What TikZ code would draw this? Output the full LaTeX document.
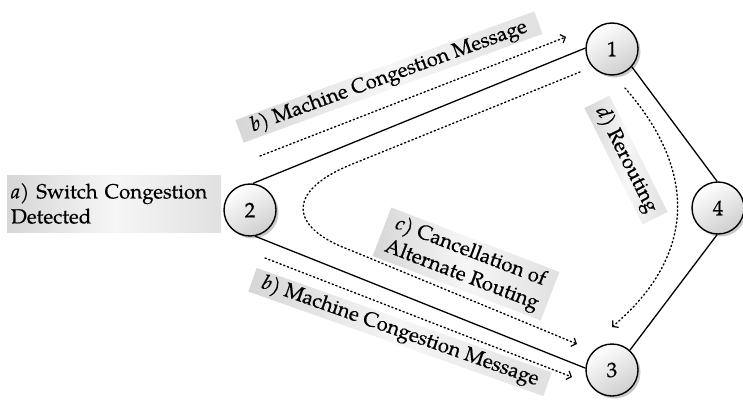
\documentclass[tikz,border=0pt]{standalone}
\usepackage{fontspec}
\setmainfont{TeX Gyre Pagella}[FakeBold=0.5, ItalicFeatures={FakeBold=0.5}]
\usetikzlibrary{arrows.meta,shadows}
\tikzset{
  netnode/.style={circle, draw=black, line width=1.4pt, minimum size=52pt, inner sep=0pt,
    top color=white, bottom color=gray!38, shading angle=30,
    drop shadow={shadow xshift=2.5pt, shadow yshift=-2.5pt, fill=gray!70, opacity=0.6},
    font=\fontsize{21}{21}\selectfont},
  link/.style={line width=1.3pt, draw=black},
  msg/.style={line width=1.4pt, dash pattern=on 1.3pt off 2.7pt, line cap=round,
    -{Straight Barb[length=4pt,width=9pt,line width=1.2pt]}},
  labelbox/.style={inner sep=0pt, left color=gray!32, right color=gray!24, middle color=gray!7,
    font=\fontsize{20.5}{25}\selectfont}
}
\begin{document}
\begin{tikzpicture}[x=1pt,y=-1pt]
\useasboundingbox (0,0) rectangle (743,404);
% nodes
\node[netnode] (n1) at (612,49) {1};
\node[netnode] (n2) at (250,210) {2};
\node[netnode] (n3) at (612,370) {3};
\node[netnode] (n4) at (718,208) {4};
% links
\draw[link] (n2.84) -- (n1.178);
\draw[link] (n2.-79) -- (n3.176);
\draw[link] (n1.-42) -- (n4.92);
\draw[link] (n4.-92) -- (n3.48);
% labels
\node[labelbox, minimum width=214pt, minimum height=57pt, text width=206pt, align=left] (la) at (114,203.5)
  {\textit{a)} Switch Congestion\\Detected};
\node[labelbox, minimum width=318pt, minimum height=24pt, rotate=20] (lb1) at (389,77)
  {\textit{b)} Machine Congestion Message};
\node[labelbox, minimum width=313pt, minimum height=25pt, rotate=-19.5] (lb2) at (400,332)
  {\textit{b)} Machine Congestion Message};
\node[labelbox, minimum width=180pt, minimum height=52pt, rotate=-21, align=center] (lc) at (466,264)
  {\textit{c)} Cancellation of\\Alternate Routing};
\node[labelbox, minimum width=130pt, minimum height=28pt, rotate=-63.5] (ld) at (626,160)
  {\textit{d)} Rerouting};
% message paths
\coordinate (b1s) at (260,156);
\coordinate (b1e) at (566,37);
\coordinate (b2s) at (265,258);
\coordinate (b2e) at (572,377);
\coordinate (cs) at (580,72);
\coordinate (ce) at (577,344);
\coordinate (ds) at (625,88);
\coordinate (de) at (612,327);
\draw[msg] (b1s) -- (b1e);
\draw[msg] (b2s) -- (b2e);
\draw[msg] (cs) -- (350,165) .. controls (285,192) and (290,228) .. (350,250) -- (ce);
\draw[msg] (ds) .. controls (697,170) and (697,255) .. (de);
\end{tikzpicture}
\end{document}
